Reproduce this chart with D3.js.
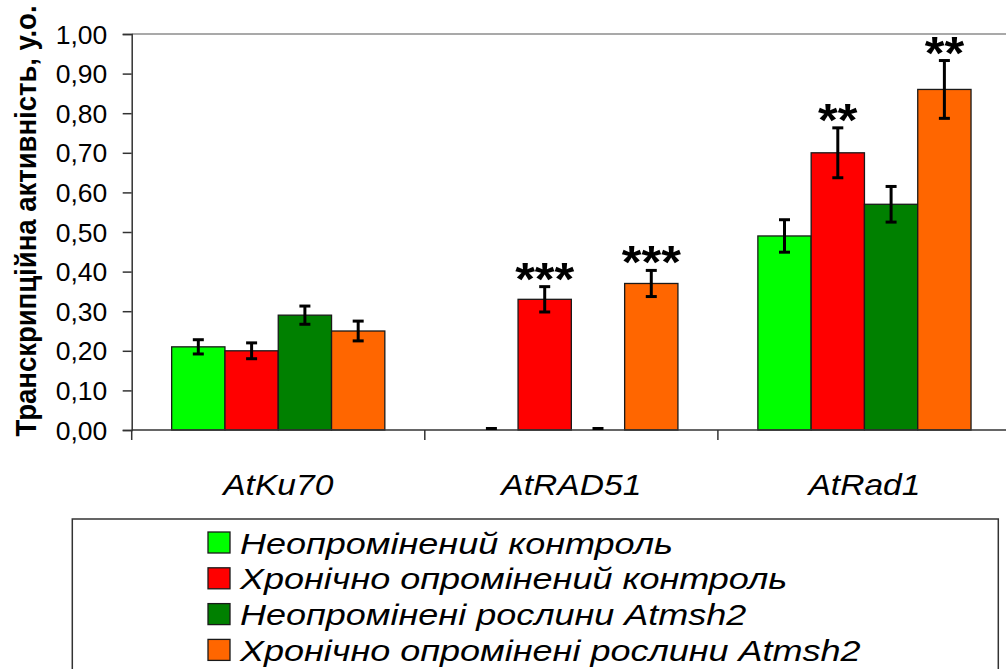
<!DOCTYPE html>
<html>
<head>
<meta charset="utf-8">
<script src="https://cdn.jsdelivr.net/npm/d3@7"></script>
<style>
  body { margin: 0; background: #fff; }
  svg { display: block; font-family: "Liberation Sans", Arial, sans-serif; }
</style>
</head>
<body>
<svg id="chart" width="1006" height="669"></svg>
<script>
// data
var categories = ['AtKu70', 'AtRAD51', 'AtRad1']
var seriesNames = [
  'Неопромінений контроль',
  'Хронічно опромінений контроль',
  'Неопромінені рослини Atmsh2',
  'Хронічно опромінені рослини Atmsh2'
]
var seriesColors = ['#00ff00', '#ff0000', '#008000', '#ff6600']

// values per series, in category order
var controlValues = [0.21, 0.00, 0.49]
var irradControlValues = [0.20, 0.33, 0.70]
var mutantValues = [0.29, 0.00, 0.57]
var irradMutantValues = [0.25, 0.37, 0.86]

var controlErr = [0.018, 0.0, 0.041]
var irradControlErr = [0.020, 0.032, 0.063]
var mutantErr = [0.023, 0.0, 0.045]
var irradMutantErr = [0.025, 0.033, 0.073]

var controlStars = ['', '', '']
var irradControlStars = ['', '***', '**']
var mutantStars = ['', '', '']
var irradMutantStars = ['', '***', '**']

var yTicks = [0, 0.1, 0.2, 0.3, 0.4, 0.5, 0.6, 0.7, 0.8, 0.9, 1.0]

//
// Setup
//
var allValues = [controlValues, irradControlValues, mutantValues, irradMutantValues]
var allErr = [controlErr, irradControlErr, mutantErr, irradMutantErr]
var allStars = [controlStars, irradControlStars, mutantStars, irradMutantStars]

var svg = d3.select('#chart')
var plot = { left: 131.7, right: 1011, top: 34, bottom: 430 }
var textStretch = 1.12 // the original picture is a bit wider than tall

var x0 = d3.scaleBand().domain(categories).range([plot.left, plot.right])
var x1 = d3.scaleBand().domain(seriesNames).range([0, x0.bandwidth()]).paddingOuter(0.75)
var y = d3.scaleLinear().domain([0, 1]).range([plot.bottom, plot.top])
var color = d3.scaleOrdinal().domain(seriesNames).range(seriesColors)

var bars = []
seriesNames.forEach(function (s, si) {
  categories.forEach(function (c, ci) {
    bars.push({ series: s, cat: c, value: allValues[si][ci], err: allErr[si][ci], stars: allStars[si][ci] })
  })
})

// plot frame (top border in gray, like the excel plot area)
svg.append('line')
  .attr('x1', plot.left).attr('x2', plot.right)
  .attr('y1', plot.top).attr('y2', plot.top)
  .attr('stroke', '#8c8c8c').attr('stroke-width', 1.5)

// bars
svg.append('g').selectAll('rect')
  .data(bars.filter(function (d) { return d.value > 0 }))
  .join('rect')
  .attr('x', function (d) { return x0(d.cat) + x1(d.series) })
  .attr('y', function (d) { return y(d.value) })
  .attr('width', x1.bandwidth())
  .attr('height', function (d) { return y(0) - y(d.value) })
  .attr('fill', function (d) { return color(d.series) })
  .attr('stroke', '#1a1a1a')
  .attr('stroke-width', 1.3)

// axes
var yAxis = d3.axisLeft(y)
  .tickValues(yTicks)
  .tickFormat(function (d) { return d3.format('.2f')(d).replace('.', ',') })
  .tickSize(9)
  .tickPadding(14)

var gy = svg.append('g')
  .attr('transform', 'translate(' + plot.left + ',0)')
  .call(yAxis)
gy.select('.domain').attr('stroke', '#333').attr('stroke-width', 1.5)
gy.selectAll('.tick line').attr('stroke', '#333').attr('stroke-width', 1.5)
gy.selectAll('.tick text')
  .attr('font-size', 25)
  .attr('fill', '#000')
  .attr('font-family', '"Liberation Sans", Arial, sans-serif')
  .attr('dy', '0.36em')
  .attr('transform', 'scale(1.06,1)')

var gx = svg.append('g')
  .attr('transform', 'translate(0,' + plot.bottom + ')')
gx.append('line')
  .attr('x1', plot.left).attr('x2', plot.right)
  .attr('stroke', '#333').attr('stroke-width', 1.5)
gx.selectAll('.xtick')
  .data(categories.concat(['end']))
  .join('line')
  .attr('class', 'xtick')
  .attr('x1', function (d, i) { return plot.left + i * x0.step() })
  .attr('x2', function (d, i) { return plot.left + i * x0.step() })
  .attr('y1', 0).attr('y2', 10)
  .attr('stroke', '#333').attr('stroke-width', 1.5)

gx.selectAll('.xlabel')
  .data(categories)
  .join('text')
  .attr('class', 'xlabel')
  .attr('transform', function (d) { return 'translate(' + (x0(d) + x0.bandwidth() / 2) + ',65) scale(' + textStretch + ',1)' })
  .attr('text-anchor', 'middle')
  .attr('font-size', 30)
  .attr('font-style', 'italic')
  .text(function (d) { return d })

// error bars
var capHalf = 5.5
var eb = svg.append('g').attr('stroke', '#000').attr('stroke-width', 3)
bars.forEach(function (d) {
  var cx = x0(d.cat) + x1(d.series) + x1.bandwidth() / 2
  var top = y(d.value + d.err)
  var bot = y(Math.max(0, d.value - d.err))
  if (d.err > 0) {
    eb.append('line').attr('x1', cx).attr('x2', cx).attr('y1', top).attr('y2', bot)
    eb.append('line').attr('x1', cx - capHalf).attr('x2', cx + capHalf).attr('y1', bot).attr('y2', bot)
  }
  eb.append('line').attr('x1', cx - capHalf).attr('x2', cx + capHalf).attr('y1', top - (d.err > 0 ? 0 : 1.5)).attr('y2', top - (d.err > 0 ? 0 : 1.5))
})

// significance stars
svg.append('g').selectAll('text')
  .data(bars.filter(function (d) { return d.stars }))
  .join('text')
  .attr('transform', function (d) {
    return 'translate(' + (x0(d.cat) + x1(d.series) + x1.bandwidth() / 2) + ',' + (y(d.value + d.err) + 8) + ') scale(1.1,1)'
  })
  .attr('text-anchor', 'middle')
  .attr('font-size', 46)
  .attr('font-weight', 'bold')
  .text(function (d) { return d.stars })

// y title
svg.append('text')
  .attr('transform', 'translate(36,' + 221 + ') rotate(-90) scale(1,1.1)')
  .attr('text-anchor', 'middle')
  .attr('font-size', 27.5)
  .attr('font-weight', 'bold')
  .text('Транскрипційна активність, у.о.')

// legend
var legend = svg.append('g')
legend.append('rect')
  .attr('x', 72.3).attr('y', 519)
  .attr('width', 926).attr('height', 170)
  .attr('fill', 'none')
  .attr('stroke', '#333').attr('stroke-width', 1.5)

var rows = legend.selectAll('.row')
  .data(seriesNames)
  .join('g')
  .attr('class', 'row')
  .attr('transform', function (d, i) { return 'translate(208,' + (532 + i * 35.8) + ')' })
rows.append('rect')
  .attr('width', 22).attr('height', 21)
  .attr('fill', function (d) { return color(d) })
  .attr('stroke', '#1a1a1a').attr('stroke-width', 1.3)
rows.append('text')
  .attr('transform', 'translate(32,21.5) scale(1.2,1)')
  .attr('font-size', 30)
  .attr('font-style', 'italic')
  .text(function (d) { return d })
</script>
</body>
</html>
